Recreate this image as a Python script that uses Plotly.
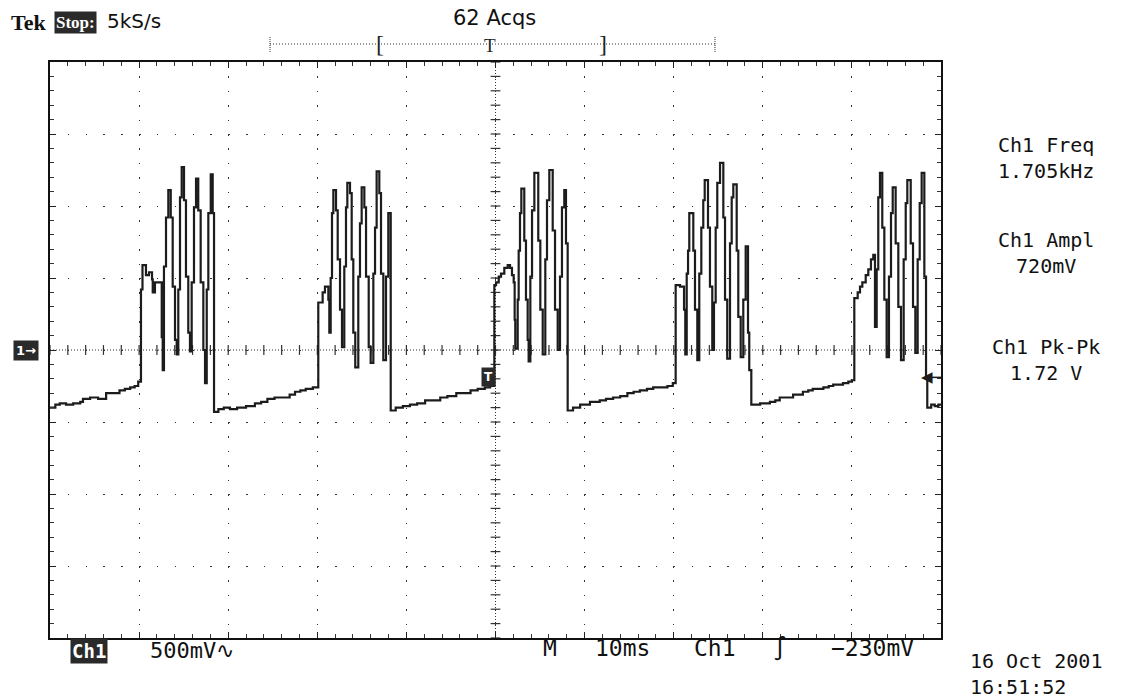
import plotly.graph_objects as go

# ---------------- data (time in ms, voltage in V) ----------------
base0_t = [0.0, 0.6, 1.1, 1.8, 2.6, 3.4, 3.7, 4.5, 5.4, 6.3, 7.0, 7.8, 8.4, 9.0, 9.5, 9.9]
base0_v = [-0.40, -0.38, -0.37, -0.38, -0.37, -0.36, -0.34, -0.33, -0.34, -0.30, -0.30, -0.28, -0.27, -0.26, -0.25, -0.22]

burst1_t = [10.21, 10.38, 10.77, 11.11, 11.45, 11.53, 11.78, 12.12, 12.54, 12.65, 12.79, 13.02, 13.28, 13.55,
            13.77, 14.03, 14.22, 14.40, 14.59, 14.78, 15.04, 15.26, 15.52, 15.71, 15.90, 16.16, 16.39, 16.64,
            16.91, 17.21, 17.40, 17.59, 17.77, 18.04, 18.26]
burst1_v = [0.42, 0.59, 0.52, 0.54, 0.49, 0.40, 0.47, 0.47, 0.09, -0.14, 0.58, 0.92, 1.11, 0.92,
            0.44, 0.07, -0.03, 0.42, 1.06, 1.27, 1.04, 0.51, 0.12, -0.01, 0.47, 0.99, 1.19, 0.97,
            0.47, 0.00, -0.23, 0.42, 0.95, 1.22, 0.95]

base1_t = [18.41, 18.9, 19.5, 20.2, 21.0, 22.0, 23.0, 23.7, 24.4, 25.2, 26.0, 26.9, 27.5, 28.1, 28.7, 29.5]
base1_v = [-0.43, -0.41, -0.40, -0.41, -0.40, -0.39, -0.37, -0.36, -0.34, -0.33, -0.33, -0.31, -0.29, -0.28, -0.27, -0.26]

burst2_t = [30.11, 30.60, 30.86, 31.24, 31.35, 31.50, 31.65, 31.80, 32.10, 32.29, 32.55, 32.77, 33.03, 33.22,
            33.37, 33.67, 33.86, 34.04, 34.26, 34.60, 34.79, 34.98, 35.28, 35.47, 35.77, 35.99, 36.29, 36.48,
            36.66, 36.96, 37.15, 37.41, 37.71, 37.97]
burst2_v = [0.33, 0.40, 0.44, 0.35, 0.12, 0.50, 0.95, 1.11, 0.97, 0.63, 0.28, 0.02, 0.58, 0.99,
            1.16, 1.09, 0.63, 0.12, -0.12, 0.51, 0.88, 1.13, 0.99, 0.51, 0.02, -0.09, 0.53, 0.85,
            1.24, 1.09, 0.53, -0.07, 0.51, 0.95]

base2_t = [38.24, 38.8, 39.6, 40.4, 41.2, 42.1, 43.0, 43.8, 44.6, 45.6, 46.4, 47.2, 48.0, 48.8, 49.4]
base2_v = [-0.42, -0.40, -0.39, -0.38, -0.37, -0.35, -0.35, -0.33, -0.32, -0.30, -0.30, -0.28, -0.27, -0.26, -0.25]

burst3_t = [49.87, 50.06, 50.36, 50.62, 50.99, 51.37, 51.63, 51.85, 52.04, 52.15, 52.22, 52.49, 52.60, 52.75,
            52.90, 53.23, 53.42, 53.61, 53.72, 53.91, 54.10, 54.36, 54.80, 55.03, 55.30, 55.59, 55.78, 56.04,
            56.42, 56.68, 56.98, 57.24, 57.46, 57.72, 57.91]
burst3_v = [0.45, 0.47, 0.51, 0.53, 0.57, 0.59, 0.57, 0.52, 0.47, 0.21, 0.01, 0.35, 0.69, 0.95,
            1.12, 0.76, 0.35, 0.07, -0.08, 0.51, 0.97, 1.23, 0.76, 0.28, -0.03, 0.63, 1.04, 1.25,
            0.83, 0.28, 0.00, 0.51, 0.99, 1.11, 0.74]

base3_t = [58.10, 58.7, 59.5, 60.6, 61.7, 62.4, 63.2, 64.0, 64.8, 65.5, 66.2, 67.0, 67.7, 68.5, 69.3, 69.9]
base3_v = [-0.42, -0.40, -0.38, -0.36, -0.35, -0.34, -0.33, -0.32, -0.30, -0.29, -0.28, -0.27, -0.26, -0.26, -0.25, -0.23]

burst4_t = [70.22, 70.71, 71.16, 71.30, 71.46, 71.61, 71.75, 72.20, 72.39, 72.65, 72.87, 73.10, 73.32, 73.48,
            73.85, 74.07, 74.33, 74.52, 74.71, 74.89, 75.20, 75.57, 75.76, 76.01, 76.32, 76.51, 76.69, 77.07,
            77.25, 77.52, 77.81, 78.08, 78.34, 78.48]
burst4_v = [0.45, 0.44, 0.28, -0.03, 0.53, 0.69, 0.95, 0.69, 0.28, -0.07, 0.53, 0.85, 1.04, 1.18,
            0.85, 0.44, 0.00, 0.33, 0.85, 1.16, 1.30, 0.92, 0.35, -0.06, 0.74, 1.06, 1.15, 0.69,
            0.23, -0.05, 0.35, 0.72, 0.12, -0.14]

base4_t = [78.71, 79.3, 79.7, 80.3, 80.8, 81.4, 81.9, 82.7, 83.4, 84.0, 84.5, 85.1, 85.6, 86.2, 86.8,
           87.4, 87.9, 88.5, 89.0, 89.6, 90.0]
base4_v = [-0.38, -0.38, -0.37, -0.37, -0.36, -0.35, -0.33, -0.33, -0.31, -0.31, -0.29, -0.28, -0.27, -0.27,
           -0.26, -0.25, -0.24, -0.24, -0.23, -0.22, -0.21]

burst5_t = [90.27, 90.65, 90.91, 91.17, 91.55, 91.84, 92.14, 92.40, 92.59, 92.78, 92.96, 93.15, 93.41, 93.64,
            93.90, 94.16, 94.39, 94.58, 94.91, 95.21, 95.51, 95.81, 96.04, 96.22, 96.60, 96.86, 97.12, 97.38,
            97.61, 97.83, 98.13, 98.32]
burst5_v = [0.36, 0.40, 0.44, 0.47, 0.52, 0.56, 0.63, 0.66, 0.16, 0.56, 1.06, 1.23, 0.85, 0.35,
            -0.05, 0.51, 0.95, 1.13, 0.74, 0.30, -0.07, 0.63, 1.02, 1.18, 0.74, 0.30, -0.02, 0.63,
            1.02, 1.23, 0.51, -0.19]

base5_t = [98.46, 98.9, 99.3, 99.7, 100.0]
base5_v = [-0.40, -0.38, -0.39, -0.38, -0.38]

trigger_time = 49.2      # ms, position of the T marker
trigger_level = -0.19    # V, level arrow on the right edge

meas_labels = [("Ch1 Freq", "1.705kHz"), ("Ch1 Ampl", "720mV"), ("Ch1 Pk-Pk", "1.72 V")]
bottom_labels = ["Ch1", "500mV∿", "M", "10ms", "Ch1", "∫", "−230mV"]
date_labels = ["16 Oct 2001", "16:51:52"]

# ---------------- layout geometry ----------------
W, H = 1136, 699
L, R, T, B = 50, 195, 62, 61
PW = W - L - R
PH = H - T - B


def xp(p):
    return (p - L) / PW


def yp(p):
    return (H - B - p) / PH


t_all = base0_t + burst1_t + base1_t + burst2_t + base2_t + burst3_t + base3_t + burst4_t + base4_t + burst5_t + base5_t
v_all = base0_v + burst1_v + base1_v + burst2_v + base2_v + burst3_v + base3_v + burst4_v + base4_v + burst5_v + base5_v

INK = "#1c1c1c"
fig = go.Figure()

# centre graticule tick bars
fig.add_trace(go.Scatter(x=[i * 2 for i in range(51)], y=[0] * 51, mode="markers",
                         marker=dict(symbol="line-ns", size=7, line=dict(width=1.2, color="#333")),
                         hoverinfo="skip", showlegend=False))
fig.add_trace(go.Scatter(x=[50] * 41, y=[-2 + i * 0.1 for i in range(41)], mode="markers",
                         marker=dict(symbol="line-ew", size=7, line=dict(width=1.2, color="#333")),
                         hoverinfo="skip", showlegend=False))

# waveform
fig.add_trace(go.Scatter(x=t_all, y=v_all, mode="lines",
                         line=dict(color=INK, width=2.2, shape="hv"),
                         hoverinfo="skip", showlegend=False))

shapes = [
    dict(type="line", xref="x", yref="y", x0=0, x1=100, y0=0, y1=0,
         line=dict(color="#333", width=1, dash="1px,2px"), layer="below"),
    dict(type="line", xref="x", yref="y", x0=50, x1=50, y0=-2, y1=2,
         line=dict(color="#333", width=1, dash="1px,2px"), layer="below"),
    # record bar on top
    dict(type="line", xref="paper", yref="paper", x0=xp(270), x1=xp(715), y0=yp(44), y1=yp(44),
         line=dict(color="#333", width=1, dash="1px,2px")),
    dict(type="line", xref="paper", yref="paper", x0=xp(270), x1=xp(270), y0=yp(37), y1=yp(52),
         line=dict(color="#333", width=1, dash="1px,1px")),
    dict(type="line", xref="paper", yref="paper", x0=xp(715), x1=xp(715), y0=yp(37), y1=yp(52),
         line=dict(color="#333", width=1, dash="1px,1px")),
    # trigger level line at right edge
    dict(type="line", xref="x", yref="y", x0=98.9, x1=100, y0=trigger_level, y1=trigger_level,
         line=dict(color=INK, width=1.5)),
]

SCOPE_FONT = "DejaVu Sans Mono"
ann = []
ann.append(dict(text="<b>Tek</b>", x=xp(28), y=yp(22), font=dict(family="Liberation Serif", size=22, color="#111")))
ann.append(dict(text="<b>Stop:</b>", x=xp(75), y=yp(22), bgcolor="#2a2a2a", borderpad=1,
                font=dict(family="Liberation Serif", size=17, color="white")))
ann.append(dict(text="5kS/s", x=xp(134), y=yp(21), font=dict(family="DejaVu Sans", size=20, color="#111")))
ann.append(dict(text="62 Acqs", x=xp(494), y=yp(18), font=dict(family="DejaVu Sans", size=21, color="#111")))
ann.append(dict(text="[", x=xp(380), y=yp(44), font=dict(family="Liberation Serif", size=24, color="#222")))
ann.append(dict(text="T", x=xp(490), y=yp(45), font=dict(family="Liberation Serif", size=19, color="#222")))
ann.append(dict(text="]", x=xp(603), y=yp(44), font=dict(family="Liberation Serif", size=24, color="#222")))

for (a, b), yy in zip(meas_labels, [158, 253, 360]):
    ann.append(dict(text=a + "<br>" + b, x=xp(1046), y=yp(yy),
                    font=dict(family=SCOPE_FONT, size=20, color="#111")))

# bottom status line
ann.append(dict(text="<b>" + bottom_labels[0] + "</b>", x=xp(89), y=yp(651), bgcolor="#2a2a2a", borderpad=1,
                font=dict(family=SCOPE_FONT, size=19, color="white")))
ann.append(dict(text=bottom_labels[1], x=xp(148), y=yp(650), xanchor="left",
                font=dict(family=SCOPE_FONT, size=22, color="#111")))
for lab, cx in zip(bottom_labels[2:], [550, 622, 715, 780, 872]):
    ann.append(dict(text=lab, x=xp(cx), y=yp(648), font=dict(family=SCOPE_FONT, size=23, color="#111")))

ann.append(dict(text=date_labels[0] + "<br>" + date_labels[1], x=xp(968), y=yp(674), xanchor="left",
                align="left", font=dict(family=SCOPE_FONT, size=20, color="#111")))

# ground marker, trigger marker, trigger level arrow
ann.append(dict(text="<b>1→</b>", x=xp(26), y=0, yref="y", bgcolor="#2a2a2a", borderpad=2,
                font=dict(family="DejaVu Sans", size=13, color="white")))
ann.append(dict(text="<b>T</b>", x=trigger_time, y=trigger_level, xref="x", yref="y",
                bgcolor="#2a2a2a", borderpad=2, font=dict(family="DejaVu Sans", size=12, color="white")))
ann.append(dict(text="◀", x=98.4, y=trigger_level, xref="x", yref="y",
                font=dict(family="DejaVu Sans", size=15, color=INK)))

for a in ann:
    a.setdefault("xref", "paper")
    a.setdefault("yref", "paper")
    a.setdefault("xanchor", "center")
    a.setdefault("yanchor", "middle")
    a["showarrow"] = False

fig.update_layout(
    width=W, height=H,
    margin=dict(l=L, r=R, t=T, b=B, pad=0),
    paper_bgcolor="white", plot_bgcolor="white",
    shapes=shapes, annotations=ann, showlegend=False,
    xaxis=dict(range=[0, 100], dtick=10, tick0=0, showticklabels=False,
               showgrid=True, gridcolor="#333", gridwidth=1.3, griddash="1.5px,12.9px",
               zeroline=False, showline=True, linecolor="#111", linewidth=2, mirror="allticks",
               ticks="inside", ticklen=6, tickwidth=1.2, tickcolor="#222",
               minor=dict(dtick=2, tick0=0, ticks="inside", ticklen=4, tickwidth=1, tickcolor="#333", showgrid=False),
               fixedrange=True),
    yaxis=dict(range=[-2, 2], dtick=0.5, tick0=0, showticklabels=False,
               showgrid=True, gridcolor="#333", gridwidth=1.3, griddash="1.5px,16.32px",
               zeroline=False, showline=True, linecolor="#111", linewidth=2, mirror="allticks",
               ticks="inside", ticklen=6, tickwidth=1.2, tickcolor="#222",
               minor=dict(dtick=0.1, tick0=0, ticks="inside", ticklen=4, tickwidth=1, tickcolor="#333", showgrid=False),
               fixedrange=True),
)

fig.write_html("out.html", config={"displayModeBar": False},
               post_script="document.body.style.margin='0';document.body.style.overflow='hidden';")
